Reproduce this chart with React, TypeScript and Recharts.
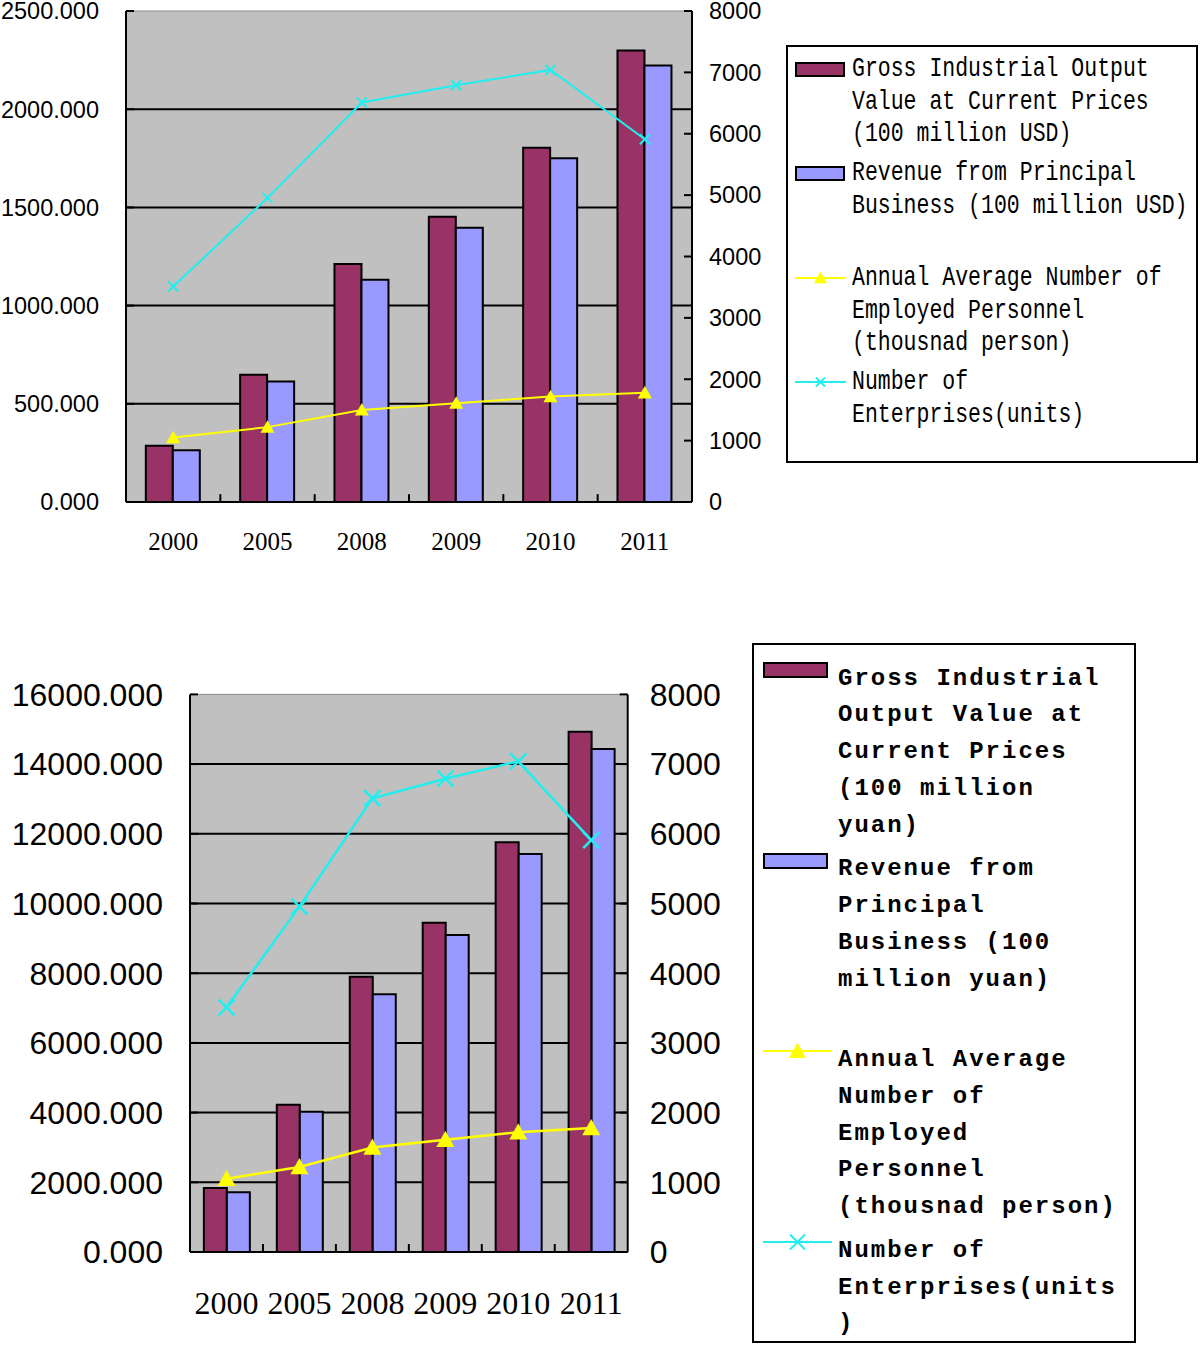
import { ComposedChart, Bar, Line, XAxis, YAxis, CartesianGrid, ReferenceLine } from 'recharts'

const years = ['2000', '2005', '2008', '2009', '2010', '2011']

// upper chart, 100 million USD
const usdOutput = [286, 648, 1212, 1452, 1804, 2299]
const usdRevenue = [264, 614, 1132, 1396, 1750, 2222]

// lower chart, 100 million yuan
const yuanOutput = [1837, 4227, 7900, 9450, 11756, 14930]
const yuanRevenue = [1713, 4026, 7395, 9097, 11420, 14433]

// same in both charts (right axis)
const personnel = [1050, 1220, 1500, 1610, 1718, 1780]
const enterprises = [3510, 4955, 6510, 6790, 7040, 5910]

const usdTicks = [0, 500, 1000, 1500, 2000, 2500]
const yuanTicks = [0, 2000, 4000, 6000, 8000, 10000, 12000, 14000, 16000]
const countTicks = [0, 1000, 2000, 3000, 4000, 5000, 6000, 7000, 8000]

const usdLegend = [
  ['Gross Industrial Output', 'Value at Current Prices', '(100 million USD)'],
  ['Revenue from Principal', 'Business (100 million USD)'],
  ['Annual Average Number of', 'Employed Personnel', '(thousnad person)'],
  ['Number of', 'Enterprises(units)'],
]
const yuanLegend = [
  ['Gross Industrial', 'Output Value at', 'Current Prices', '(100 million', 'yuan)'],
  ['Revenue from', 'Principal', 'Business (100', 'million yuan)'],
  ['Annual Average', 'Number of', 'Employed', 'Personnel', '(thousnad person)'],
  ['Number of', 'Enterprises(units', ')'],
]

const MAROON = '#993366'
const PERIWINKLE = '#9999FF'
const YELLOW = '#FFFF00'
const CYAN = '#22EEEE'
const PLOT_BG = '#C0C0C0'

const usdData = years.map((year, i) => ({
  year,
  output: usdOutput[i],
  revenue: usdRevenue[i],
  personnel: personnel[i],
  enterprises: enterprises[i],
}))
const yuanData = years.map((year, i) => ({
  year,
  output: yuanOutput[i],
  revenue: yuanRevenue[i],
  personnel: personnel[i],
  enterprises: enterprises[i],
}))

function triangleDot(size: number) {
  return (props: any) => {
    const { cx, cy, index } = props
    if (cx == null || cy == null) return <g key={index} />
    const h = size * 0.9
    return (
      <polygon
        key={index}
        points={`${cx},${cy - h * 0.55} ${cx - size / 2},${cy + h * 0.45} ${cx + size / 2},${cy + h * 0.45}`}
        fill={YELLOW}
      />
    )
  }
}

function crossDot(size: number, width: number) {
  return (props: any) => {
    const { cx, cy, index } = props
    if (cx == null || cy == null) return <g key={index} />
    const r = size / 2
    return (
      <g key={index} stroke={CYAN} strokeWidth={width}>
        <line x1={cx - r} y1={cy - r} x2={cx + r} y2={cy + r} />
        <line x1={cx - r} y1={cy + r} x2={cx + r} y2={cy - r} />
      </g>
    )
  }
}

interface PanelProps {
  data: any[]
  leftTicks: number[]
  gridValues: number[]
  tickLen: number // x tick mark length, in left-axis units
  top: number
  width: number
  height: number
  margin: { top: number; right: number; bottom: number; left: number }
  leftWidth: number
  rightWidth: number
  leftFont: number
  rightFont: number
  xFont: number
  leftMargin: number
  rightMargin: number
  xHeight: number
  xMargin: number
  gap: string
  triSize: number
  crossSize: number
  lineWidth: number
}

function Panel(p: PanelProps) {
  const axisStroke = { stroke: '#000', strokeWidth: 2 }
  const maxLeft = p.leftTicks[p.leftTicks.length - 1]
  return (
    <div style={{ position: 'absolute', left: 0, top: p.top }}>
      <ComposedChart width={p.width} height={p.height} data={p.data} margin={p.margin} barCategoryGap={p.gap} barGap={0}>
        <CartesianGrid
          yAxisId="left"
          xAxisId="cat"
          vertical={false}
          horizontalValues={p.gridValues}
          stroke="#000"
          strokeWidth={2}
          strokeOpacity={1}
          fill={PLOT_BG}
          fillOpacity={1}
        />
        <ReferenceLine yAxisId="left" xAxisId="cat" y={maxLeft} stroke="#8a8a8a" strokeWidth={1} />
        {years.slice(1).map((yr) => (
          <ReferenceLine
            key={yr}
            xAxisId="cat"
            yAxisId="left"
            position="start"
            segment={[
              { x: yr, y: 0 },
              { x: yr, y: p.tickLen },
            ]}
            stroke="#000"
            strokeWidth={2}
          />
        ))}
        <XAxis
          xAxisId="cat"
          dataKey="year"
          height={p.xHeight}
          tickLine={false}
          tickSize={0}
          tickMargin={p.xMargin}
          axisLine={axisStroke}
          interval={0}
          tick={{ fill: '#000', fontSize: p.xFont, fontFamily: 'Liberation Serif' }}
        />
        <YAxis
          yAxisId="left"
          orientation="left"
          width={p.leftWidth}
          domain={[0, maxLeft]}
          ticks={p.leftTicks}
          interval={0}
          tickSize={-8}
          tickMargin={p.leftMargin}
          axisLine={axisStroke}
          tickLine={axisStroke}
          tickFormatter={(v: number) => v.toFixed(3)}
          tick={{ fill: '#000', fontSize: p.leftFont, fontFamily: 'Liberation Sans' }}
        />
        <YAxis
          yAxisId="right"
          orientation="right"
          width={p.rightWidth}
          domain={[0, 8000]}
          ticks={countTicks}
          interval={0}
          tickSize={-8}
          tickMargin={p.rightMargin}
          axisLine={axisStroke}
          tickLine={axisStroke}
          tick={{ fill: '#000', fontSize: p.rightFont, fontFamily: 'Liberation Sans' }}
        />
        <Bar xAxisId="cat" yAxisId="left" dataKey="output" fill={MAROON} stroke="#000" strokeWidth={2} isAnimationActive={false} />
        <Bar xAxisId="cat" yAxisId="left" dataKey="revenue" fill={PERIWINKLE} stroke="#000" strokeWidth={2} isAnimationActive={false} />
        <Line
          xAxisId="cat"
          yAxisId="right"
          type="linear"
          dataKey="personnel"
          stroke={YELLOW}
          strokeWidth={p.lineWidth}
          dot={triangleDot(p.triSize)}
          activeDot={false}
          isAnimationActive={false}
        />
        <Line
          xAxisId="cat"
          yAxisId="right"
          type="linear"
          dataKey="enterprises"
          stroke={CYAN}
          strokeWidth={p.lineWidth}
          dot={crossDot(p.crossSize, p.lineWidth)}
          activeDot={false}
          isAnimationActive={false}
        />
      </ComposedChart>
    </div>
  )
}

interface LegendBoxProps {
  labels: string[][]
  left: number
  top: number
  width: number
  height: number
  firstTop: number
  step: number
  lineHeight: number
  fontSize: number
  letterSpacing: number
  stretch: number
  bold: boolean
  textLeft: number
  keyLeft: number
  swatchW: number
  swatchH: number
  keyOffset: number
  triSize: number
  crossSize: number
}

function LegendBox(p: LegendBoxProps) {
  const kinds = ['bar', 'bar', 'tri', 'cross']
  const colors = [MAROON, PERIWINKLE, YELLOW, CYAN]
  const keyW = p.textLeft - p.keyLeft - 6
  return (
    <div
      style={{
        position: 'absolute',
        left: p.left,
        top: p.top,
        width: p.width,
        height: p.height,
        border: '2px solid #000',
        boxSizing: 'border-box',
        background: '#fff',
      }}
    >
      {p.labels.map((lines, i) => {
        const blockTop = p.firstTop + i * p.step
        const keyY = blockTop + p.lineHeight / 2 + p.keyOffset
        const kind = kinds[i]
        return (
          <div key={i}>
            {kind === 'bar' ? (
              <div
                style={{
                  position: 'absolute',
                  left: p.keyLeft,
                  top: keyY - p.swatchH / 2,
                  width: p.swatchW,
                  height: p.swatchH,
                  background: colors[i],
                  border: '2px solid #000',
                  boxSizing: 'border-box',
                }}
              />
            ) : (
              <svg
                style={{ position: 'absolute', left: p.keyLeft, top: keyY - 12 }}
                width={keyW}
                height={24}
              >
                <line x1={0} y1={12} x2={keyW} y2={12} stroke={colors[i]} strokeWidth={2} />
                {kind === 'tri'
                  ? triangleDot(p.triSize)({ cx: keyW / 2, cy: 12, index: 0 })
                  : crossDot(p.crossSize, 2)({ cx: keyW / 2, cy: 12, index: 0 })}
              </svg>
            )}
            <div
              style={{
                position: 'absolute',
                left: p.textLeft,
                top: blockTop,
                whiteSpace: 'pre',
                fontFamily: 'Liberation Mono',
                fontSize: p.fontSize,
                letterSpacing: p.letterSpacing,
                fontWeight: p.bold ? 'bold' : 'normal',
                lineHeight: `${p.lineHeight / p.stretch}px`,
                transform: `scaleY(${p.stretch})`,
                transformOrigin: 'left top',
                color: '#000',
              }}
            >
              {lines.join('\n')}
            </div>
          </div>
        )
      })}
    </div>
  )
}

export default function App() {
  return (
    <div style={{ position: 'absolute', left: 0, top: 0, width: 1200, height: 1346, background: '#fff', overflow: 'hidden' }}>
      <Panel
        data={usdData}
        leftTicks={usdTicks}
        gridValues={[500, 1000, 1500, 2000]}
        tickLen={40}
        top={0}
        width={1200}
        height={560}
        margin={{ top: 11, right: 428, bottom: 0, left: 0 }}
        leftWidth={126}
        rightWidth={80}
        leftFont={23.5}
        rightFont={23.5}
        xFont={25}
        leftMargin={35}
        rightMargin={25}
        xHeight={58}
        xMargin={30}
        gap="21%"
        triSize={14}
        crossSize={10}
        lineWidth={2}
      />
      <Panel
        data={yuanData}
        leftTicks={yuanTicks}
        gridValues={[2000, 4000, 6000, 8000, 10000, 12000, 14000]}
        tickLen={230}
        top={600}
        width={1200}
        height={746}
        margin={{ top: 94.4, right: 472.3, bottom: 0, left: 0 }}
        leftWidth={190}
        rightWidth={100}
        leftFont={32}
        rightFont={32}
        xFont={32}
        leftMargin={35}
        rightMargin={30}
        xHeight={94}
        xMargin={39}
        gap="19%"
        triSize={18}
        crossSize={16}
        lineWidth={2.5}
      />
      <LegendBox
        labels={usdLegend}
        left={786}
        top={45}
        width={412}
        height={418}
        firstTop={6}
        step={104.3}
        lineHeight={32.4}
        fontSize={21.5}
        letterSpacing={0}
        stretch={1.3}
        bold={false}
        textLeft={64}
        keyLeft={7}
        swatchW={50}
        swatchH={15}
        keyOffset={0}
        triSize={13}
        crossSize={9}
      />
      <LegendBox
        labels={yuanLegend}
        left={752}
        top={643}
        width={384}
        height={700}
        firstTop={15.7}
        step={190.7}
        lineHeight={36.7}
        fontSize={24}
        letterSpacing={2}
        stretch={1}
        bold={true}
        textLeft={84}
        keyLeft={9}
        swatchW={65}
        swatchH={16}
        keyOffset={-9}
        triSize={17}
        crossSize={15}
      />
    </div>
  )
}
